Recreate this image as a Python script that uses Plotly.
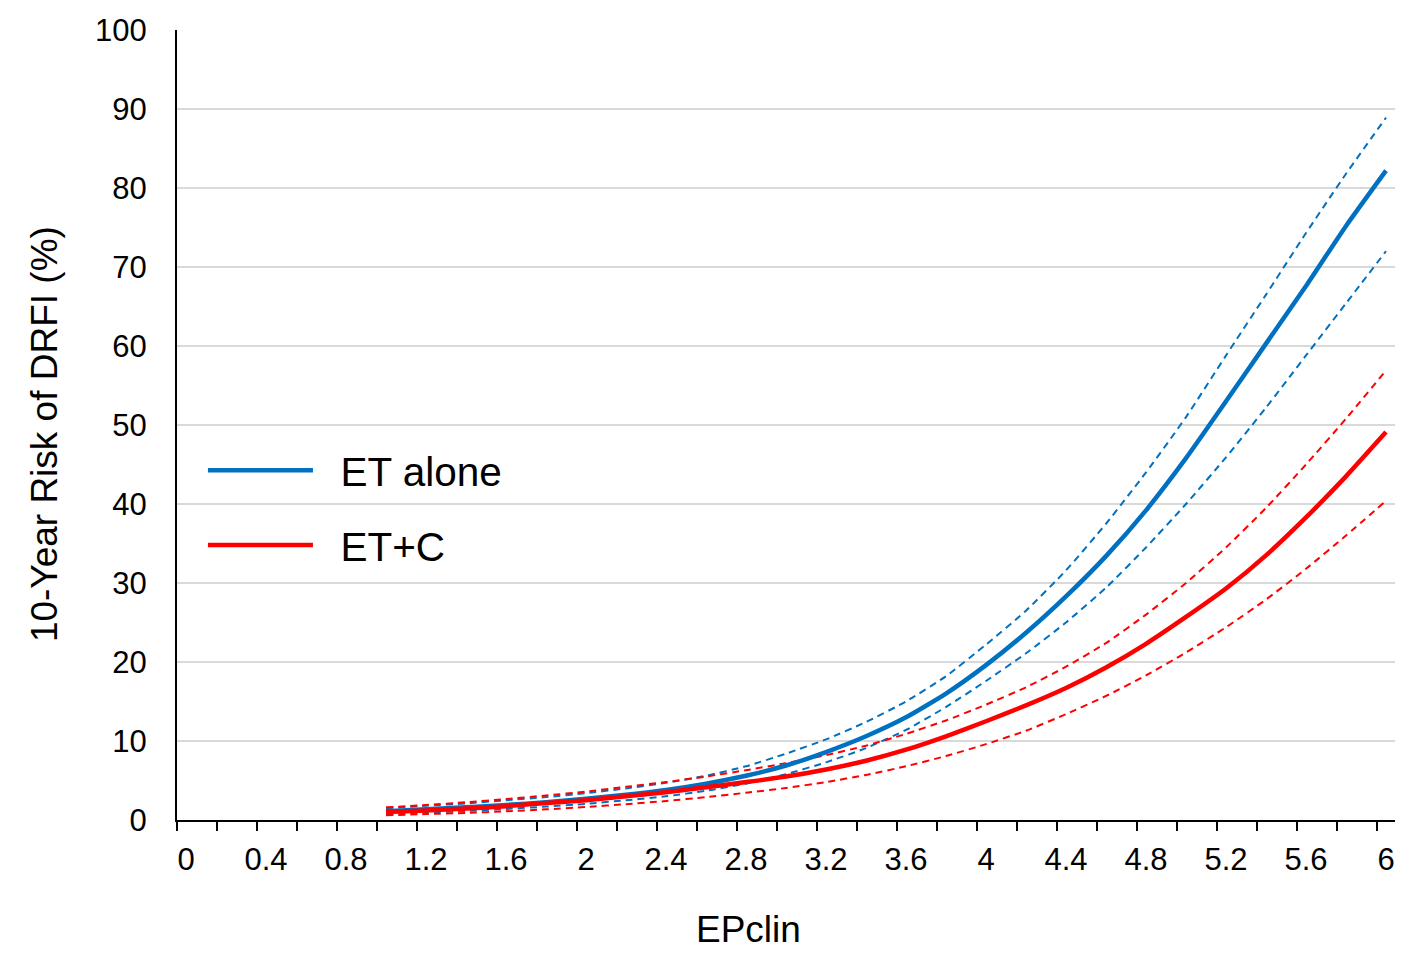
import plotly.graph_objects as go

# ---- data ----
epclin = [1.0, 1.2, 1.4, 1.6, 1.8, 2.0, 2.2, 2.4, 2.6, 2.8, 3.0, 3.2, 3.4,
          3.6, 3.8, 4.0, 4.2, 4.4, 4.6, 4.8, 5.0, 5.2, 5.4, 5.6, 5.8, 6.0]

et_alone = [1.1, 1.35, 1.6, 1.9, 2.25, 2.7, 3.2, 3.8, 4.6, 5.6, 6.9, 8.6, 10.6,
            13.0, 16.0, 19.6, 23.7, 28.3, 33.4, 39.2, 45.8, 53.0, 60.3, 67.6, 75.2, 82.2]
et_alone_hi = [1.5, 1.8, 2.1, 2.5, 2.9, 3.4, 4.0, 4.7, 5.6, 6.8, 8.4, 10.2, 12.4,
               15.0, 18.2, 22.2, 26.5, 31.6, 37.5, 44.0, 51.0, 58.8, 66.5, 74.3, 81.8, 88.9]
et_alone_lo = [0.75, 0.95, 1.15, 1.4, 1.7, 2.05, 2.5, 3.0, 3.7, 4.6, 5.8, 7.3, 9.1,
               11.4, 14.3, 17.6, 21.1, 25.0, 29.4, 34.5, 40.0, 45.9, 52.2, 58.8, 65.4, 72.0]

et_c = [1.0, 1.2, 1.45, 1.75, 2.15, 2.5, 3.0, 3.5, 4.15, 4.8, 5.5, 6.4, 7.5,
        8.9, 10.6, 12.5, 14.5, 16.7, 19.3, 22.3, 25.7, 29.3, 33.5, 38.3, 43.5, 49.1]
et_c_hi = [1.6, 1.9, 2.25, 2.65, 3.1, 3.6, 4.2, 4.8, 5.5, 6.3, 7.2, 8.2, 9.4,
           10.9, 12.6, 14.6, 16.8, 19.4, 22.4, 26.0, 30.0, 34.5, 39.5, 45.0, 50.8, 56.9]
et_c_lo = [0.6, 0.75, 0.9, 1.1, 1.35, 1.65, 2.0, 2.4, 2.9, 3.45, 4.05, 4.8, 5.7,
           6.8, 8.1, 9.6, 11.3, 13.4, 15.7, 18.3, 21.2, 24.4, 27.9, 31.8, 36.0, 40.4]

x_tick_labels = ["0", "0.4", "0.8", "1.2", "1.6", "2", "2.4", "2.8", "3.2",
                 "3.6", "4", "4.4", "4.8", "5.2", "5.6", "6"]
x_tick_vals = [0, 0.4, 0.8, 1.2, 1.6, 2.0, 2.4, 2.8, 3.2, 3.6, 4.0, 4.4, 4.8, 5.2, 5.6, 6.0]
y_tick_vals = [0, 10, 20, 30, 40, 50, 60, 70, 80, 90, 100]

BLUE = "#0070C0"
RED = "#FF0000"
FONT = "Liberation Sans, Arial, sans-serif"
NB = "\u00a0\u00a0"

fig = go.Figure()

# dashed confidence bands
for ys, col in [(et_alone_hi, BLUE), (et_alone_lo, BLUE), (et_c_hi, RED), (et_c_lo, RED)]:
    fig.add_trace(go.Scatter(x=epclin, y=ys, mode="lines", showlegend=False,
                             line=dict(color=col, width=2, dash="7px,5px",
                                       shape="spline", smoothing=0.5),
                             hoverinfo="skip"))

fig.add_trace(go.Scatter(x=epclin, y=et_alone, mode="lines", name=NB + "ET alone",
                         legendgroup="a",
                         line=dict(color=BLUE, width=4.5, shape="spline", smoothing=0.5)))
fig.add_trace(go.Scatter(x=epclin, y=et_c, mode="lines", name=NB + "ET+C",
                         legendgroup="b",
                         line=dict(color=RED, width=4.5, shape="spline", smoothing=0.5)))

fig.update_layout(
    width=1418, height=976,
    margin=dict(l=177, r=23, t=30, b=156),
    paper_bgcolor="white", plot_bgcolor="white",
    font=dict(family=FONT, color="black", size=31),
    legend=dict(x=0.0213, y=0.395, xanchor="left", yanchor="middle",
                font=dict(size=40.5, family=FONT), itemwidth=105,
                tracegroupgap=19, bgcolor="rgba(0,0,0,0)"),
    xaxis=dict(range=[-0.045, 6.045], tickmode="array", tickvals=x_tick_vals,
               ticktext=x_tick_labels, ticks="outside", ticklen=11,
               tickcolor="rgba(0,0,0,0)", showgrid=False, zeroline=False,
               showline=True, linecolor="black", linewidth=2,
               tickfont=dict(size=31),
               minor=dict(ticks="outside", tick0=-0.045, dtick=0.2, ticklen=9,
                          tickwidth=2, tickcolor="black", showgrid=False)),
    yaxis=dict(range=[0, 100], tickmode="array", tickvals=y_tick_vals,
               ticks="outside", ticklen=22, tickcolor="rgba(0,0,0,0)",
               showgrid=True, gridcolor="#D9D9D9", gridwidth=1.5,
               zeroline=False, showline=True, linecolor="black", linewidth=2,
               tickfont=dict(size=31)),
    annotations=[
        dict(text="EPclin", xref="paper", yref="paper", x=0.4696, y=-0.139,
             xanchor="center", yanchor="middle", showarrow=False,
             font=dict(size=37, family=FONT, color="black")),
        dict(text="10-Year Risk of DRFI (%)", xref="paper", yref="paper",
             x=-0.1091, y=0.4886, xanchor="center", yanchor="middle",
             textangle=-90, showarrow=False,
             font=dict(size=37, family=FONT, color="black")),
    ],
)

fig.write_html("out.html")
